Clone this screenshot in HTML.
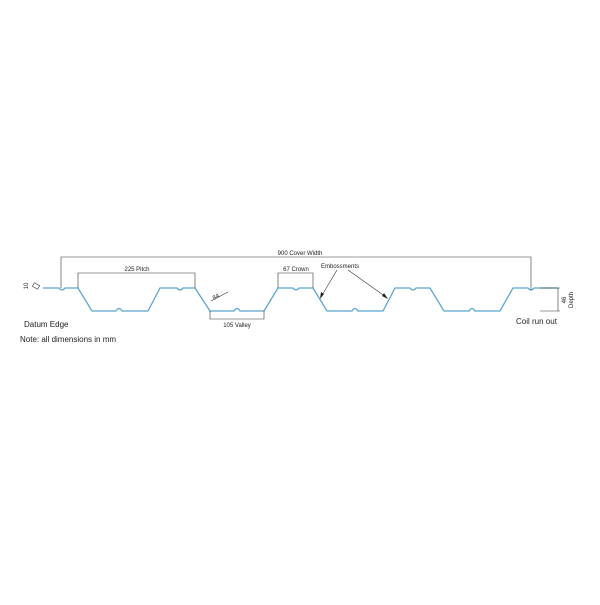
<!DOCTYPE html>
<html><head><style>body{margin:0;background:#fff}</style></head><body>
<svg width="600" height="600" viewBox="0 0 600 600" xmlns="http://www.w3.org/2000/svg" font-family="Liberation Sans, sans-serif">
<rect width="600" height="600" fill="#fff"/>
<g fill="none" stroke="#5aa6cf" stroke-width="1.3">
<path d="M43,288 L59,288 Q62,292 65,288 L78,288 L92,311 L116,311 Q119,306 122,311 L148,311 L160,288 L177,288 Q180,292 183,288 L195,288 L210,311 L234,311 Q237,306 240,311 L264,311 L278,288 L293,288 Q296,292 299,288 L313,288 L327,311 L352,311 Q355,306 358,311 L383,311 L395,288 L410,288 Q413,292 416,288 L430,288 L444,311 L469,311 Q472,306 475,311 L500,311 L513,288 L528,288 Q531,292 534,288 L558,288"/>
</g>
<g stroke="#333" stroke-width="0.6" fill="none">
<path d="M61,288 V257 H531 V290"/>
<path d="M78,288 V273 H195 V288"/>
<path d="M278,288 V273 H313 V288"/>
<path d="M210,311 V319 H264 V311"/>
<path d="M211,301 L228,292"/>
<path d="M540,288 H560 M540,311 H560 M558,288 V311"/>
<path d="M337,270 L321,297 M348,270 L386,297"/>
<rect x="33" y="284" width="6" height="4" transform="rotate(30 36 286)"/>
</g>
<g fill="#222">
<polygon points="320,299 321,292 324,294"/>
<polygon points="388,299 382,296 384,293"/>
</g>
<g font-size="6" fill="#222">
<text x="300" y="255" text-anchor="middle">900 Cover Width</text>
<text x="137" y="271" text-anchor="middle">225 Pitch</text>
<text x="296" y="271" text-anchor="middle">67 Crown</text>
<text x="340" y="268" text-anchor="middle">Embossments</text>
<text x="237" y="327" text-anchor="middle">105 Valley</text>
<text x="214" y="300" transform="rotate(-30 214 300)">84</text>
<text x="28" y="286" transform="rotate(-90 28 286)" text-anchor="middle">10</text>
<text x="566" y="300" transform="rotate(-90 566 300)" text-anchor="middle">46</text>
<text x="573" y="300" transform="rotate(-90 573 300)" text-anchor="middle">Depth</text>
</g>
<g font-size="8" fill="#222">
<text x="24" y="327">Datum Edge</text>
<text x="20" y="342">Note: all dimensions in mm</text>
<text x="516" y="324">Coil run out</text>
</g>
</svg>
</body></html>
